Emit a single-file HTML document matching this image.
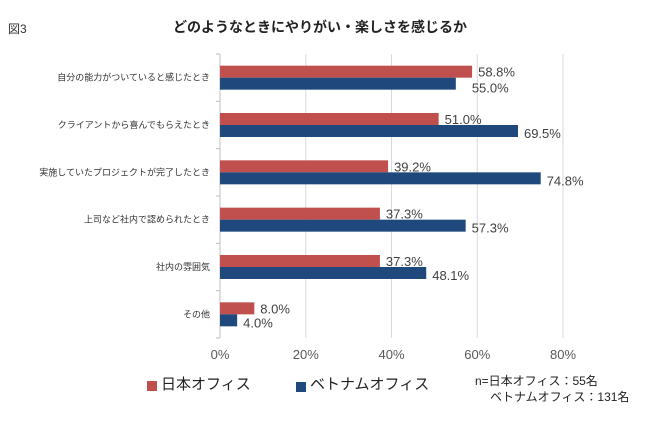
<!DOCTYPE html>
<html><head><meta charset="utf-8">
<style>
body{margin:0;background:#fff;font-family:"Liberation Sans","Noto Sans CJK JP",sans-serif;}
svg text{font-family:"Liberation Sans","Noto Sans CJK JP",sans-serif;}
</style></head>
<body>
<svg width="650" height="417" xmlns="http://www.w3.org/2000/svg">
<rect width="650" height="417" fill="#fff"/>
<text x="8" y="33" font-size="12" fill="#333">図3</text>
<text x="320" y="32" font-size="14" font-weight="bold" text-anchor="middle" fill="#222">どのようなときにやりがい・楽しさを感じるか</text>
<g id="grid"></g><g id="bars"></g><g id="labels"></g>
<g>
<rect x="147" y="381" width="10" height="10" fill="#c0504d"/>
<text x="161" y="389" font-size="15" fill="#222">日本オフィス</text>
<rect x="296" y="382" width="10" height="10" fill="#1f497d"/>
<text x="310" y="389" font-size="15" fill="#222">ベトナムオフィス</text>
</g>
<text x="475" y="385" font-size="12" fill="#222">n=日本オフィス：55名</text>
<text x="490" y="401" font-size="12" fill="#222">ベトナムオフィス：131名</text>
</svg>
<script>
const categories=["自分の能力がついていると感じたとき","クライアントから喜んでもらえたとき","実施していたプロジェクトが完了したとき","上司など社内で認められたとき","社内の雰囲気","その他"];
const japanValues=[58.8,51.0,39.2,37.3,37.3,8.0];
const vietnamValues=[55.0,69.5,74.8,57.3,48.1,4.0];
const tickValues=[0,20,40,60,80];
const tickLabels=["0%","20%","40%","60%","80%"];
const NS="http://www.w3.org/2000/svg";
const x0=220,x80=563,plotTop=54,plotBottom=338;
const xs=v=>x0+(x80-x0)*v/80;
const band=(plotBottom-plotTop)/categories.length;
function mk(tag,attrs,parent,txt){const e=document.createElementNS(NS,tag);for(const k in attrs)e.setAttribute(k,attrs[k]);if(txt!==undefined)e.textContent=txt;document.getElementById(parent).appendChild(e);return e;}
tickValues.forEach((t,i)=>{
  if(i>0){const g=mk("line",{x1:xs(t),x2:xs(t),y1:plotTop,y2:plotBottom,stroke:"#d9d9d9","stroke-width":1},"grid");
  
  }
  const l=mk("text",{x:xs(t),y:359,"font-size":13,fill:"#595959","text-anchor":"middle"},"grid",tickLabels[i]);
  
  
});
const ax=mk("line",{x1:x0,x2:x0,y1:plotTop,y2:plotBottom,stroke:"#bfbfbf","stroke-width":1},"grid");


for(let i=0;i<=categories.length;i++){const tk=mk("line",{x1:x0-4,x2:x0,y1:plotTop+band*i,y2:plotTop+band*i,stroke:"#bfbfbf"},"grid");

}
const bh=12;
categories.forEach((c,i)=>{
  const cy=plotTop+band*(i+0.5);
  const lab=mk("text",{x:x0-10,y:cy+3,"font-size":9,fill:"#333","text-anchor":"end"},"labels",c);
  
  
  const r=mk("rect",{x:x0,y:cy-bh,width:xs(japanValues[i])-x0,height:bh,fill:"#c0504d"},"bars");
  
  
  const b=mk("rect",{x:x0,y:cy,width:xs(vietnamValues[i])-x0,height:bh,fill:"#1f497d"},"bars");
  
  
  const t1=mk("text",{x:xs(japanValues[i])+6,y:cy-1,"font-size":13,fill:"#404040"},"labels",japanValues[i].toFixed(1)+"%");
  
  
  let vx=xs(vietnamValues[i])+6,vy=cy+13;
  if(i===0){vx+=10;vy+=2;}
  const t2=mk("text",{x:vx,y:vy,"font-size":13,fill:"#404040"},"labels",vietnamValues[i].toFixed(1)+"%");
  
  
});
</script>
</body></html>
